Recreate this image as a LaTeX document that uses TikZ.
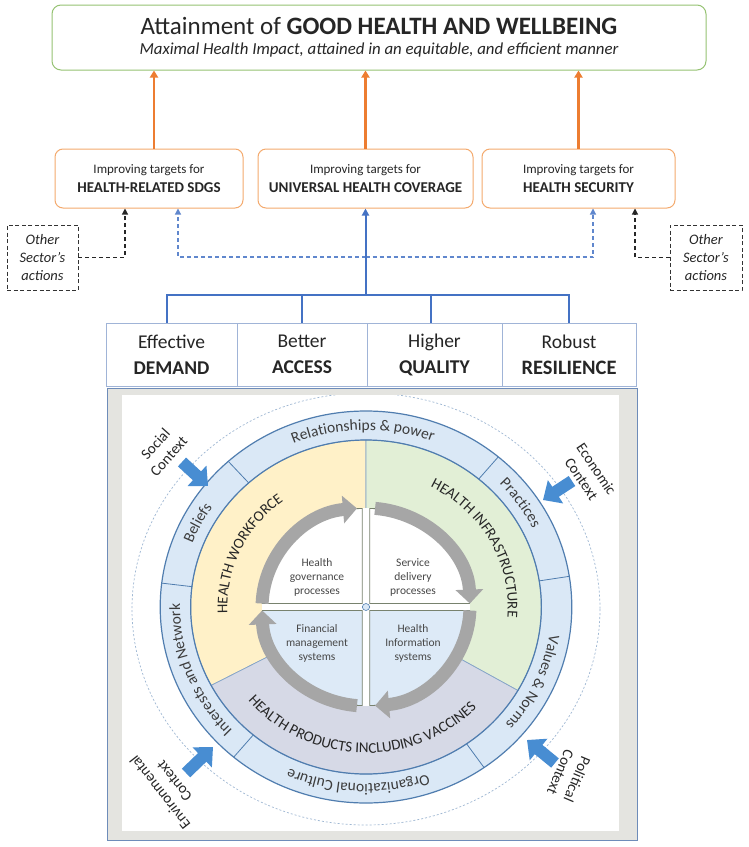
\documentclass[tikz,border=0pt]{standalone}
\usepackage{fontspec}
\setmainfont{Carlito}
\usetikzlibrary{arrows.meta,decorations.text,calc}
\definecolor{orng}{RGB}{237,125,49}
\definecolor{orngb}{RGB}{244,170,110}
\definecolor{grnb}{RGB}{150,195,115}
\definecolor{treeblue}{RGB}{68,114,196}
\definecolor{rowb}{RGB}{160,180,215}
\definecolor{panelb}{RGB}{110,140,185}
\definecolor{stone}{RGB}{228,228,224}
\definecolor{ringblue}{RGB}{218,232,246}
\definecolor{ringline}{RGB}{80,125,175}
\definecolor{wyellow}{RGB}{255,241,200}
\definecolor{igreen}{RGB}{226,239,214}
\definecolor{plav}{RGB}{214,217,230}
\definecolor{qblue}{RGB}{221,234,247}
\definecolor{arrgray}{RGB}{166,166,166}
\definecolor{ctxblue}{RGB}{72,141,210}
\definecolor{txt}{RGB}{38,38,38}
\definecolor{ringtxt}{RGB}{60,60,60}
\definecolor{qline}{RGB}{120,130,110}
\newcommand\ringfont{\fontsize{15.5}{18}\selectfont}
\newcommand\secfont{\fontsize{15}{17}\selectfont}
\newcommand\tsm{\fontsize{13}{16}\selectfont}
\newcommand\tbf{\fontsize{15}{19}\selectfont\bfseries}
\tikzset{
  tbox/.style={draw=orngb, line width=1pt, rounded corners=8pt, minimum height=59pt, inner sep=0pt, align=center, text=txt},
  obox/.style={draw=black!80, dash pattern=on 4pt off 2.5pt, line width=0.9pt, minimum width=71pt, minimum height=65pt, inner sep=0pt, align=center, font=\fontsize{14.5}{18}\selectfont\itshape, text=txt},
  cell/.style={draw=rowb, line width=1pt, minimum height=63pt, inner sep=0pt, align=center, font=\fontsize{19.5}{26}\selectfont, text=txt},
  oarr/.style={orng, line width=2.5pt, -{Triangle[width=8pt,length=7pt]}},
  btree/.style={treeblue, line width=2pt},
  bdash/.style={treeblue!85, line width=1.1pt, dash pattern=on 4pt off 3pt, -{Triangle[width=6pt,length=6pt]}},
  kdash/.style={black!85, line width=1.1pt, dash pattern=on 4pt off 3pt, -{Triangle[width=6pt,length=6pt]}},
  garr/.style={line width=13pt, draw=arrgray, -{Triangle[width=27pt,length=14pt]}},
  carr/.style={line width=12pt, draw=ctxblue, -{Triangle[width=27pt,length=15pt]}},
  ringtext/.style={decorate, decoration={text along path, text align=center, text={|\ringfont\color{ringtxt}|#1}}},
  sectext/.style={decorate, decoration={text along path, text align=center, text={|\secfont\color{txt}|#1}}},
  qtext/.style={align=center, font=\fontsize{11.5}{14}\selectfont, text=txt!85},
  ctx/.style={align=center, font=\fontsize{15}{18}\selectfont, text=txt},
}
\begin{document}
\begin{tikzpicture}[x=1pt,y=-1pt]
\useasboundingbox (0,0) rectangle (748,847);
\fill[white] (0,0) rectangle (748,847);

% top box
\node[draw=grnb, line width=1pt, rounded corners=9pt, minimum width=654pt, minimum height=65pt, inner sep=0pt, align=center, text=txt] (top) at (379,37.5)
 {{\fontsize{25}{27}\selectfont Attainment of \textbf{GOOD HEALTH AND WELLBEING}}\\[8pt]
  {\fontsize{16.8}{19}\selectfont\itshape Maximal Health Impact, attained in an equitable, and efficient manner}};

% target boxes
\node[tbox, minimum width=188pt] (t1) at (149,178.5) {{\tsm Improving targets for}\\[6pt]{\tbf HEALTH-RELATED SDGS}};
\node[tbox, minimum width=215pt] (t2) at (365.5,178.5) {{\tsm Improving targets for}\\[6pt]{\tbf UNIVERSAL HEALTH COVERAGE}};
\node[tbox, minimum width=193pt] (t3) at (578.5,178.5) {{\tsm Improving targets for}\\[6pt]{\tbf HEALTH SECURITY}};

\draw[oarr] ([xshift=5pt]t1.north) -- ([xshift=5pt]t1.north |- top.south);
\draw[oarr] (t2.north) -- (t2.north |- top.south);
\draw[oarr] (t3.north) -- (t3.north |- top.south);

% other sector boxes
\node[obox] (o1) at (42.5,257.5) {Other\\Sector's\\actions};
\node[obox, minimum width=72pt] (o2) at (706,257.5) {Other\\Sector's\\actions};
\draw[kdash] (o1.east) -| ([xshift=-24pt]t1.south);
\draw[kdash] (o2.west) -| ([xshift=56.5pt]t3.south);

% row of cells
\node[cell, minimum width=131pt] (c1) at (171.5,354.5) {Effective\\\textbf{DEMAND}};
\node[cell, minimum width=130pt] (c2) at (302,354.5) {Better\\\textbf{ACCESS}};
\node[cell, minimum width=135pt] (c3) at (434.5,354.5) {Higher\\\textbf{QUALITY}};
\node[cell, minimum width=134pt] (c4) at (569,354.5) {Robust\\{\fontsize{20.5}{26}\selectfont\textbf{RESILIENCE}}};

% blue tree
\coordinate (jt) at (365.5,295);
\coordinate (jd) at (365.5,257);
\draw[bdash] (jd) -| ([xshift=29pt]t1.south);
\draw[bdash] (jd) -| ([xshift=14.5pt]t3.south);
\draw[btree] ([xshift=-5pt]c1.north) |- (jt) -| (c4.north);
\draw[btree] (c2.north) -- (c2.north |- jt);
\draw[btree] ([xshift=-4pt]c3.north) -- ([xshift=-4pt]c3.north |- jt);
\draw[btree, -{Triangle[width=7pt,length=7pt]}] (jt) -- (t2.south);

% panel
\draw[panelb, line width=1pt, fill=stone] (107,388) rectangle (637,840);
\fill[white] (122,395) rectangle (619,831);
\begin{scope}
\clip (122,395) rectangle (619,831);
\draw[ringline!55, dash pattern=on 2pt off 2pt, line width=0.7pt] (366,609) ellipse [x radius=234, y radius=216];
\end{scope}

% circle
\begin{scope}[shift={(366,607)}, y=1pt, xscale=1.05]
\filldraw[fill=ringblue, draw=ringline, line width=1.2pt] (0,0) circle[radius=196];
\filldraw[fill=wyellow, draw=ringline!70, line width=0.7pt] (0,0) -- (90:167) arc[start angle=90, end angle=208, radius=167] -- cycle;
\filldraw[fill=igreen, draw=ringline!70, line width=0.7pt] (0,0) -- (-30:167) arc[start angle=-30, end angle=90, radius=167] -- cycle;
\filldraw[fill=plav, draw=ringline!70, line width=0.7pt] (0,0) -- (208:167) arc[start angle=208, end angle=330, radius=167] -- cycle;
\draw[ringline, line width=1.2pt] (0,0) circle[radius=167];
\foreach \a in {9,50,132,173,230,305} \draw[ringline, line width=0.8pt] (\a:167) -- (\a:196);
\fill[white] (0,0) circle[radius=99];
\filldraw[fill=white, draw=qline, line width=0.8pt] (-3.5,3.5) -- ++(0,95) arc[start angle=90, end angle=180, radius=95] -- cycle;
\filldraw[fill=white, draw=qline, line width=0.8pt] (3.5,3.5) -- ++(95,0) arc[start angle=0, end angle=90, radius=95] -- cycle;
\filldraw[fill=qblue, draw=qline, line width=0.8pt] (3.5,-3.5) -- ++(0,-95) arc[start angle=270, end angle=360, radius=95] -- cycle;
\filldraw[fill=qblue, draw=qline, line width=0.8pt] (-3.5,-3.5) -- ++(-95,0) arc[start angle=180, end angle=270, radius=95] -- cycle;
\draw[garr] (178:99) arc[start angle=178, end angle=95, radius=99];
\draw[garr] (85:99) arc[start angle=85, end angle=2, radius=99];
\draw[garr] (-2:99) arc[start angle=-2, end angle=-85, radius=99];
\draw[garr] (-95:99) arc[start angle=-95, end angle=-178, radius=99];
\filldraw[fill=ringblue, draw=ringline, line width=0.6pt] (0,0) circle[radius=3.5];
% ring labels
\path[ringtext={Relationships {\&} power}] (132:177) arc[start angle=132, end angle=50, radius=177];
\path[ringtext={Practices}] (58:177) arc[start angle=58, end angle=12, radius=177];
\path[ringtext={Values {\&} Norms}] (7:177) arc[start angle=7, end angle=-57, radius=177];
\path[ringtext={Organizational Culture}] (305:177) arc[start angle=305, end angle=230, radius=177];
\path[ringtext={Interests and Network}] (230:177) arc[start angle=230, end angle=173, radius=177];
\path[ringtext={Beliefs}] (173:177) arc[start angle=173, end angle=132, radius=177];
% sector labels
\path[sectext={HEALTH WORKFORCE}] (202:132) arc[start angle=202, end angle=108, radius=132];
\path[sectext={HEALTH INFRASTRUCTURE}] (78:135) arc[start angle=78, end angle=-20, radius=135];
\path[sectext={HEALTH PRODUCTS INCLUDING VACCINES}] (194:146) arc[start angle=194, end angle=342, radius=146];
\end{scope}

% quadrant texts
\node[qtext] (q1) at (317,577) {Health\\governance\\processes};
\node[qtext] (q2) at (413,577) {Service\\delivery\\processes};
\node[qtext] (q3) at (317,643) {Financial\\management\\systems};
\node[qtext] (q4) at (413,643) {Health\\Information\\systems};

% context labels and arrows
\node[ctx, rotate=48] (sc) at (162,450) {Social\\Context};
\node[ctx, rotate=-56] (ec) at (589,474) {Economic\\Context};
\node[ctx, rotate=-113] (pc) at (569,776) {Political\\Context};
\node[ctx, rotate=128] (ev) at (167,787) {Environmental\\Context};
\coordinate (sa1) at (182,462); \coordinate (sa2) at (208,486);
\coordinate (ea1) at (572,481); \coordinate (ea2) at (543,500);
\coordinate (pa1) at (555,763); \coordinate (pa2) at (527,740);
\coordinate (va1) at (186,773); \coordinate (va2) at (213,747);
\draw[carr] (sa1) -- (sa2);
\draw[carr] (ea1) -- (ea2);
\draw[carr] (pa1) -- (pa2);
\draw[carr] (va1) -- (va2);
\end{tikzpicture}
\end{document}
